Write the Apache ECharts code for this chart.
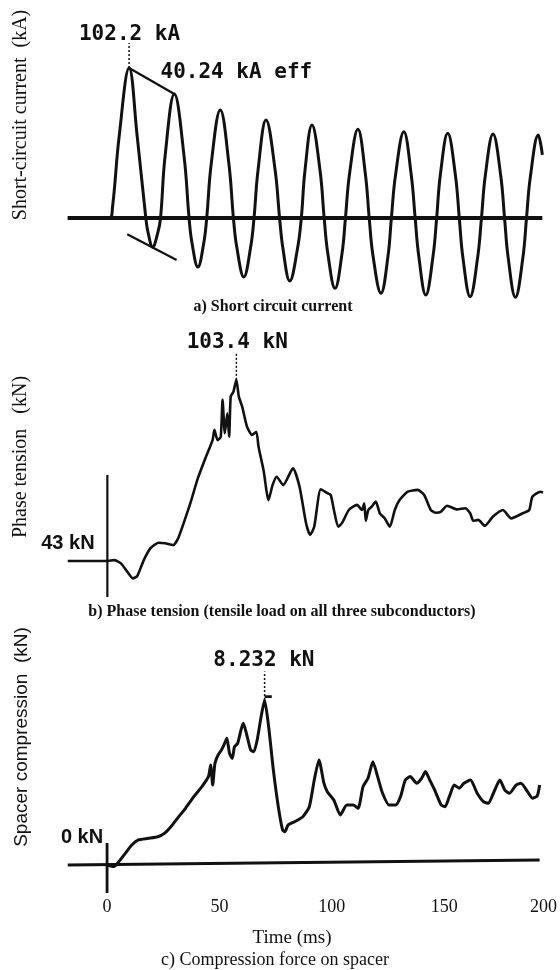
<!DOCTYPE html>
<html><head><meta charset="utf-8">
<script src="https://cdn.jsdelivr.net/npm/echarts@6/dist/echarts.min.js"></script>
<style>html,body{margin:0;padding:0;background:#fff}#c{width:560px;height:970px}</style>
</head><body><div id="c"></div>
<script>
// ---- data (time in ms) ----
const timeTicks = [0, 50, 100, 150, 200];

// a) short-circuit current, kA (zero crossings, flanks, peaks read from the trace)
const currentA = [[-17.5,0],[0.9,0],[2.3,7.7],[5.2,55.4],[9.6,102.2],[13.2,55.4],[17.0,0],[18.0,-10],[20.0,-19.8],[22.3,-10],[23.5,0],[25.5,42],[29.6,84.5],[33.9,42],[36.1,0],[37.4,-17],[40.0,-33.4],[42.6,-17],[43.9,0],[45.9,37],[49.9,73.6],[53.7,37],[55.7,0],[57.2,-20],[60.3,-40.2],[63.3,-20],[64.8,0],[66.6,33],[70.1,66.8],[74.1,33],[76.1,0],[77.6,-21],[80.6,-42.9],[84.0,-21],[85.7,0],[87.3,32],[90.4,63.4],[94.0,32],[95.8,0],[97.4,-24],[100.6,-47.9],[103.7,-24],[105.2,0],[107.0,30],[110.7,60.4],[114.0,30],[115.7,0],[117.4,-26],[120.9,-51.3],[124.0,-26],[125.5,0],[127.3,29],[131.0,58.8],[134.3,29],[136.0,0],[137.6,-26],[140.7,-52.5],[143.9,-26],[145.5,0],[147.1,29],[150.4,57.7],[153.8,29],[155.5,0],[157.1,-27],[160.3,-53.6],[163.6,-27],[165.3,0],[167.0,29],[170.4,57.2],[173.8,29],[175.5,0],[177.1,-27],[180.3,-54.0],[183.6,-27],[185.2,0],[186.9,28],[190.4,56.5],[192.2,43]];
const baseA = [[-17.5,0],[192.2,0]];
const peakEnvelopeA = [[9.6,102.2],[29.6,84.5]];
const troughEnvelopeA = [[8.8,-11.1],[30.6,-28.6]];
const leaderA = [[9.6,102.2],[9.6,119.2]];

// b) phase tension, kN
const tensionB = [[-17.5,43],[0.1,43],[3.0,43.3],[6.0,42.2],[8.8,39.4],[11.3,37.2],[13.2,38.0],[16.1,43.3],[19.0,47.2],[22.6,49.1],[25.5,48.9],[29.1,48.3],[31.3,50.6],[34.2,56.7],[37.1,63.3],[40.0,70.6],[43.6,77.8],[46.5,83.3],[47.3,86.7],[48.7,83.3],[50.1,84.4],[50.9,96.7],[51.9,85.6],[53.0,92.2],[53.8,84.4],[54.5,97.8],[55.7,99.4],[57.0,103.4],[58.1,97.8],[59.6,94.4],[61.7,87.8],[63.9,85.0],[65.8,86.1],[66.8,81.1],[69.0,73.3],[71.2,63.3],[73.0,68.3],[74.8,71.1],[77.7,68.3],[82.0,73.9],[84.9,67.8],[87.8,55.6],[89.6,51.7],[91.4,54.4],[94.3,66.9],[97.3,65.6],[98.7,65.0],[100.1,60.0],[102.0,54.4],[103.8,55.8],[106.7,60.0],[110.3,61.7],[112.5,60.0],[113.5,62.2],[114.2,56.4],[115.3,60.0],[116.8,61.1],[118.6,62.8],[120.4,58.9],[122.6,57.2],[124.8,54.4],[127.0,60.0],[129.1,63.3],[132.7,66.1],[137.1,66.7],[140.0,65.0],[142.9,60.0],[145.1,59.1],[147.3,59.4],[150.1,61.4],[154.5,60.2],[158.1,60.6],[160.3,58.9],[161.7,56.4],[163.9,56.7],[166.8,54.7],[170.4,57.8],[174.8,60.0],[178.4,57.2],[183.5,58.9],[186.4,60.0],[187.8,64.4],[191.4,66.1],[192.5,65.8]];
const triggerB = [[0,31],[0,71.7]];
const leaderB = [[57.0,103.4],[57.0,112.3]];

// c) spacer compression, kN
const spacerC = [[0.1,0],[3.0,-0.08],[5.2,0.16],[8.1,0.58],[11.0,1.0],[13.9,1.25],[18.3,1.33],[22.6,1.41],[25.5,1.58],[28.4,1.91],[31.3,2.33],[34.9,2.83],[38.6,3.41],[42.2,3.91],[45.1,4.41],[46.1,4.99],[47.0,3.99],[48.0,5.07],[49.4,5.49],[50.9,5.74],[52.3,6.07],[53.3,6.32],[54.5,5.57],[55.7,5.32],[56.7,5.90],[58.1,6.07],[59.6,6.74],[60.6,7.07],[62.0,6.57],[63.9,5.74],[65.3,5.65],[66.8,6.24],[68.3,7.24],[70.1,8.232],[71.9,6.90],[74.0,4.74],[76.2,2.91],[78.1,1.75],[79.1,1.66],[80.6,2.0],[83.5,2.16],[87.1,2.41],[90.0,2.91],[92.2,4.24],[94.3,5.24],[96.5,4.08],[98.0,3.66],[100.9,3.24],[103.8,2.50],[106.7,2.99],[109.6,2.99],[111.7,2.83],[113.9,3.91],[116.1,4.33],[118.3,5.15],[120.4,4.41],[122.6,3.58],[125.5,2.99],[128.4,2.99],[130.6,3.41],[132.7,4.24],[134.9,4.41],[137.8,4.08],[140.0,4.33],[141.7,4.66],[143.6,4.24],[145.8,3.74],[148.7,2.99],[150.4,2.91],[152.3,3.41],[154.5,3.99],[156.7,3.83],[158.8,4.08],[161.7,4.24],[164.7,3.58],[167.5,3.16],[169.7,3.08],[171.9,3.58],[174.8,4.24],[177.0,3.74],[179.1,3.58],[182.0,3.99],[184.2,4.08],[187.1,3.66],[189.3,3.33],[191.4,3.44],[192.5,3.99]];
const baseC = [[-17.5,0],[192.5,0.25]];
const triggerC = [[0,-1.4],[0,1.1]];
const leaderC = [[70.1,8.232],[70.1,9.65]];
const flagC = [[70.1,8.4],[73.3,8.4]];

const peakCurrent = 102.2, effCurrent = 40.24, peakTension = 103.4, baseTension = 43, peakSpacer = 8.232, baseSpacer = 0;

// ---- layout ----
const X0 = 108, PXMS = 2.3, XMIN = -17.5, XMAX = 200;
const gLeft = X0 + XMIN * PXMS, gWidth = (XMAX - XMIN) * PXMS;
const kA = 150 / 102.2;         // px per kA
const kB = 3.0;                 // px per kN
const kC = 20.04;               // px per kN
const yA = [-60, 130], yB = [30, 120], yC = [-1.5, 11];
const grids = [
  {left: gLeft, width: gWidth, top: 218 - yA[1] * kA, height: (yA[1] - yA[0]) * kA},
  {left: gLeft, width: gWidth, top: 561 - (yB[1] - 43) * kB, height: (yB[1] - yB[0]) * kB},
  {left: gLeft, width: gWidth, top: 865 - yC[1] * kC, height: (yC[1] - yC[0]) * kC}
];

const INK = '#111';
const MONO = '"DejaVu Sans Mono", "Liberation Mono", monospace';
const SERIF = '"Liberation Serif", "DejaVu Serif", serif';
const SANS = '"Liberation Sans", Arial, sans-serif';

function xAx(i, show) {
  const ax = {type: 'value', gridIndex: i, min: XMIN, max: XMAX, show: show,
    axisLine: {show: false}, axisTick: {show: false}, splitLine: {show: false}};
  if (show) {
    ax.axisLabel = {customValues: timeTicks, margin: 3, color: INK, fontFamily: SERIF, fontSize: 18,
      formatter: v => v === XMAX ? '{e|' + v + '}' : String(v),
      rich: {e: {padding: [0, 26, 0, 0], color: INK, fontFamily: SERIF, fontSize: 18}}};
  }
  return ax;
}
function yAx(i, r) {
  return {type: 'value', gridIndex: i, min: r[0], max: r[1], show: false, splitLine: {show: false}};
}
function ln(i, data, w, extra) {
  return Object.assign({type: 'line', xAxisIndex: i, yAxisIndex: i, data: data, showSymbol: false,
    symbol: 'none', clip: false, silent: true, animation: false,
    lineStyle: {color: INK, width: w}}, extra || {});
}
function lbl(coord, text, font, extra) {
  return Object.assign({coord: coord, value: text, symbolSize: 0,
    label: Object.assign({show: true, position: 'inside', formatter: text, color: INK}, font)}, extra || {});
}
const monoFont = {fontFamily: MONO, fontWeight: 'bold', fontSize: 21};
const sansFont = {fontFamily: SANS, fontWeight: 'bold', fontSize: 20, align: 'right'};

const option = {
  backgroundColor: '#fff',
  animation: false,
  grid: grids,
  xAxis: [xAx(0, false), xAx(1, false), xAx(2, true)],
  yAxis: [yAx(0, yA), yAx(1, yB), yAx(2, yC)],
  series: [
    ln(0, baseA, 3.8),
    ln(0, currentA, 3, {smooth: 0.4,
      markPoint: {symbol: 'circle', symbolSize: 0, silent: true, data: [
        lbl([9.8, 124.7], peakCurrent + ' kA', monoFont),
        lbl([57.0, 98.8], effCurrent + ' kA eff', monoFont)
      ]}}),
    ln(0, peakEnvelopeA, 2.2),
    ln(0, troughEnvelopeA, 2.2),
    ln(0, leaderA, 1.5, {lineStyle: {color: INK, width: 1.5, type: [2, 2]}}),

    ln(1, triggerB, 2.2),
    ln(1, tensionB, 2.6, {smooth: 0.2,
      markPoint: {symbol: 'circle', symbolSize: 0, silent: true, data: [
        lbl([57.4, 115.7], peakTension + ' kN', monoFont),
        lbl([-5.65, 49], baseTension + ' kN', sansFont)
      ]}}),
    ln(1, leaderB, 1.5, {lineStyle: {color: INK, width: 1.5, type: [2, 2]}}),

    ln(2, baseC, 3.2),
    ln(2, triggerC, 2.8),
    ln(2, spacerC, 3, {smooth: 0.2,
      markPoint: {symbol: 'circle', symbolSize: 0, silent: true, data: [
        lbl([69.8, 10.18], peakSpacer + ' kN', monoFont),
        lbl([-1.74, 1.35], baseSpacer + ' kN', sansFont)
      ]}}),
    ln(2, leaderC, 1.5, {lineStyle: {color: INK, width: 1.5, type: [2, 2]}}),
    ln(2, flagC, 2.8)
  ],
  graphic: [
    {type: 'text', x: 21, y: 115, rotation: Math.PI / 2,
      style: {text: 'Short-circuit current  (kA)', fill: INK, font: '20px ' + SERIF, align: 'center', verticalAlign: 'middle', textAlign: 'center', textVerticalAlign: 'middle'}},
    {type: 'text', x: 21, y: 457, rotation: Math.PI / 2,
      style: {text: 'Phase tension   (kN)', fill: INK, font: '20px ' + SERIF, align: 'center', verticalAlign: 'middle', textAlign: 'center', textVerticalAlign: 'middle'}},
    {type: 'text', x: 22, y: 737, rotation: Math.PI / 2,
      style: {text: 'Spacer compression  (kN)', fill: INK, font: '19px ' + SANS, align: 'center', verticalAlign: 'middle', textAlign: 'center', textVerticalAlign: 'middle'}},
    {type: 'text', x: 273, y: 307,
      style: {text: 'a) Short circuit current', fill: INK, font: 'bold 16px ' + SERIF, align: 'center', verticalAlign: 'middle', textAlign: 'center', textVerticalAlign: 'middle'}},
    {type: 'text', x: 282, y: 612,
      style: {text: 'b) Phase tension (tensile load on all three subconductors)', fill: INK, font: 'bold 16px ' + SERIF, align: 'center', verticalAlign: 'middle', textAlign: 'center', textVerticalAlign: 'middle'}},
    {type: 'text', x: 292, y: 938,
      style: {text: 'Time (ms)', fill: INK, font: '19px ' + SERIF, align: 'center', verticalAlign: 'middle', textAlign: 'center', textVerticalAlign: 'middle'}},
    {type: 'text', x: 275, y: 960,
      style: {text: 'c) Compression force on spacer', fill: INK, font: '18px ' + SERIF, align: 'center', verticalAlign: 'middle', textAlign: 'center', textVerticalAlign: 'middle'}}
  ]
};
const chart = echarts.init(document.getElementById('c'), null, {renderer: 'canvas'});
chart.setOption(option);
</script>
</body></html>
